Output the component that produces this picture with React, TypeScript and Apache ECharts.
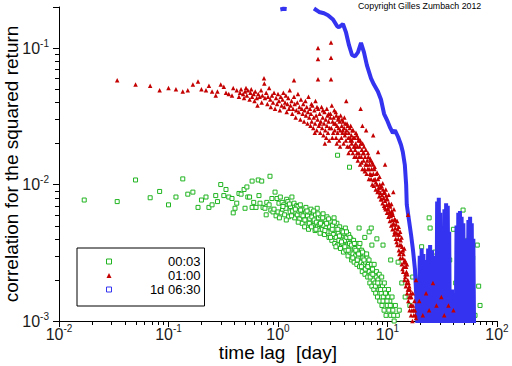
import { useEffect, useRef } from 'react';
import * as echarts from 'echarts';

const seriesNames = ['00:03', '01:00', '1d 06:30'];
const seriesColors = ['#20b420', '#c40000', '#3434f0'];

const X_MIN = 0.01;
const X_MAX = 100;
const Y_MIN = 0.001;
const Y_MAX = 0.2;

const xMinorTicks = [
  0.02, 0.03, 0.04, 0.05, 0.06, 0.07, 0.08, 0.09,
  0.2, 0.3, 0.4, 0.5, 0.6, 0.7, 0.8, 0.9,
  2, 3, 4, 5, 6, 7, 8, 9,
  20, 30, 40, 50, 60, 70, 80, 90,
];
const yMinorTicks = [
  0.002, 0.003, 0.004, 0.005, 0.006, 0.007, 0.008, 0.009,
  0.02, 0.03, 0.04, 0.05, 0.06, 0.07, 0.08, 0.09,
];

// 00:03 series (green hollow squares)
const minutePoints: number[][] = [
  [0.017, 0.0077], [0.034, 0.0075], [0.05, 0.0108], [0.068, 0.008], [0.083, 0.0089], [0.1, 0.0071],
  [0.117, 0.0081], [0.135, 0.011], [0.15, 0.0085], [0.167, 0.0088], [0.186, 0.0068], [0.2, 0.0077],
  [0.22, 0.0081], [0.234, 0.0068], [0.25, 0.0071], [0.27, 0.0083], [0.28, 0.0075], [0.3, 0.01],
  [0.32, 0.0083], [0.335, 0.0092], [0.355, 0.0081], [0.38, 0.0079], [0.39, 0.0062], [0.405, 0.0067],
  [0.42, 0.0073], [0.44, 0.0086], [0.46, 0.0085], [0.49, 0.0092], [0.5, 0.0067], [0.52, 0.0096],
  [0.53, 0.0081], [0.55, 0.0081], [0.58, 0.0068], [0.58, 0.0106], [0.6, 0.0074], [0.63, 0.0068],
  [0.66, 0.0108], [0.67, 0.0083], [0.685, 0.0073], [0.71, 0.0106], [0.73, 0.0068], [0.76, 0.0067],
  [0.78, 0.006], [0.79, 0.0074], [0.83, 0.0071], [0.845, 0.0115], [0.86, 0.0065], [0.88, 0.0079],
  [0.9, 0.0063], [0.92, 0.0066], [0.94, 0.0088], [0.96, 0.0059], [0.98, 0.0079], [1.0, 0.0063],
  [1.02, 0.0073], [1.05, 0.0081], [1.07, 0.0062], [1.09, 0.0074], [1.1, 0.0066], [1.13, 0.0071],
  [1.15, 0.006], [1.18, 0.0067], [1.2, 0.0078], [1.23, 0.0075], [1.25, 0.0058], [1.29, 0.0063],
  [1.3, 0.0069], [1.34, 0.0081], [1.36, 0.0064], [1.4, 0.0073], [1.42, 0.0057], [1.46, 0.0062],
  [1.48, 0.007], [1.5, 0.006], [1.52, 0.0069], [1.55, 0.0064], [1.58, 0.0056], [1.6, 0.0071],
  [1.63, 0.006], [1.66, 0.0052], [1.7, 0.0066], [1.72, 0.0058], [1.75, 0.0049], [1.78, 0.0062],
  [1.8, 0.0068], [1.83, 0.0054], [1.86, 0.0059], [1.9, 0.0047], [1.92, 0.0063], [1.95, 0.0056],
  [1.98, 0.0051], [2.0, 0.0066], [2.04, 0.0058], [2.08, 0.005], [2.1, 0.0062], [2.14, 0.0055],
  [2.18, 0.0046], [2.2, 0.006], [2.24, 0.0053], [2.28, 0.0067], [2.3, 0.0049], [2.34, 0.0057],
  [2.38, 0.0051], [2.42, 0.0044], [2.45, 0.0059], [2.5, 0.0053], [2.54, 0.0047], [2.58, 0.0061],
  [2.62, 0.005], [2.66, 0.0043], [2.7, 0.0055], [2.75, 0.0048], [2.8, 0.0058], [2.84, 0.0045],
  [2.88, 0.0052], [2.92, 0.0041], [2.96, 0.0049], [3.0, 0.0054], [3.05, 0.0045], [3.1, 0.0039],
  [3.15, 0.005], [3.2, 0.0043], [3.25, 0.0057], [3.3, 0.0037], [3.35, 0.0047], [3.4, 0.0041],
  [3.45, 0.0052], [3.5, 0.0036], [3.5, 0.0164], [3.55, 0.0044], [3.6, 0.0039], [3.66, 0.0049],
  [3.72, 0.0034], [3.78, 0.0042], [3.84, 0.0046], [3.9, 0.0037], [3.96, 0.0032], [4.0, 0.0044],
  [4.06, 0.0039], [4.12, 0.0048], [4.18, 0.0033], [4.24, 0.0041], [4.3, 0.0036], [4.36, 0.003],
  [4.42, 0.0043], [4.5, 0.0037], [4.5, 0.0134], [4.56, 0.0032], [4.62, 0.004], [4.7, 0.0028],
  [4.76, 0.0035], [4.84, 0.0031], [4.9, 0.0039], [4.96, 0.0027], [5.02, 0.0034], [5.1, 0.003],
  [5.18, 0.0037], [5.25, 0.0026], [5.32, 0.0032], [5.4, 0.0029], [5.48, 0.0035], [5.5, 0.0048],
  [5.56, 0.0025], [5.64, 0.0031], [5.72, 0.0027], [5.8, 0.0033], [5.88, 0.0023], [5.96, 0.0029],
  [6.05, 0.0026], [6.14, 0.0031], [6.2, 0.0041], [6.22, 0.0022], [6.3, 0.0027], [6.4, 0.0024],
  [6.5, 0.0029], [6.6, 0.0021], [6.7, 0.0026], [6.8, 0.0023], [6.8, 0.0045], [6.9, 0.0019],
  [7.0, 0.0025], [7.1, 0.0022], [7.1, 0.0048], [7.2, 0.0018], [7.2, 0.0036], [7.3, 0.0024],
  [7.4, 0.002], [7.5, 0.0017], [7.6, 0.0022], [7.7, 0.0019], [7.8, 0.0016], [7.9, 0.0021],
  [8.0, 0.0018], [8.0, 0.004], [8.1, 0.0015], [8.2, 0.002], [8.35, 0.0017], [8.5, 0.0014],
  [8.6, 0.0019], [8.75, 0.0016], [8.9, 0.0013], [9.0, 0.0018], [9.1, 0.0036], [9.15, 0.0015],
  [9.3, 0.0012], [9.4, 0.0017], [9.55, 0.0014], [9.7, 0.0011], [9.8, 0.0016], [9.95, 0.0013],
  [10.1, 0.0015], [10.3, 0.0012], [10.5, 0.0014], [10.7, 0.0011], [10.7, 0.0028], [10.9, 0.0013],
  [11.2, 0.0012], [11.5, 0.001], [11.8, 0.0013], [12.3, 0.0011], [12.5, 0.0027], [12.8, 0.0012],
  [13.5, 0.0019], [14.5, 0.0015], [16, 0.0013], [17, 0.0021], [19, 0.0017], [20.5, 0.0035],
  [21.5, 0.0013], [23, 0.0026], [24, 0.0057], [24.5, 0.0048], [26, 0.002], [27, 0.0032],
  [29, 0.0016], [31, 0.0024], [32, 0.0041], [34, 0.0014], [37, 0.0028], [40, 0.0047],
  [42, 0.0019], [44, 0.0033], [46, 0.0012], [49, 0.0065], [51, 0.0022], [54, 0.0039],
  [57, 0.0015], [60, 0.0029], [63, 0.0011], [66, 0.0036], [68, 0.0018], [70, 0.0013],
  [1.03, 0.0057], [1.11, 0.0069], [1.19, 0.0055], [1.27, 0.0072], [1.33, 0.0059], [1.44, 0.0066],
  [1.53, 0.0053], [1.61, 0.0065], [1.69, 0.0059], [1.76, 0.0055], [1.84, 0.0064], [1.93, 0.0052],
  [2.02, 0.0049], [2.12, 0.0064], [2.22, 0.0047], [2.32, 0.0061], [2.44, 0.0052], [2.56, 0.0057],
  [2.68, 0.0046], [2.78, 0.0052], [2.9, 0.0056], [3.02, 0.0041], [3.13, 0.0047], [3.27, 0.0053],
  [3.38, 0.0035], [3.52, 0.0047], [3.64, 0.0042], [3.8, 0.0038], [3.93, 0.0045], [4.08, 0.0035],
  [4.22, 0.0045], [4.38, 0.0033], [4.53, 0.0041], [4.68, 0.0036], [4.82, 0.0029], [4.98, 0.0037],
  [5.14, 0.0033], [5.3, 0.0028], [5.45, 0.0031], [5.6, 0.0037], [5.78, 0.0025], [5.92, 0.0032],
  [6.1, 0.0028], [6.27, 0.0024], [6.45, 0.0031], [6.62, 0.0025], [6.78, 0.0028], [6.95, 0.0021],
  [7.15, 0.0026], [7.35, 0.0022], [7.55, 0.0026], [7.75, 0.0018], [7.95, 0.0023], [8.15, 0.0019],
  [8.4, 0.0022], [8.65, 0.0017], [8.85, 0.0021], [9.1, 0.0014], [9.35, 0.0019], [9.6, 0.0016],
  [9.9, 0.0014], [10.2, 0.0017], [10.6, 0.0013], [11.0, 0.0015], [11.4, 0.0011],
];

// 01:00 series (red triangles)
const hourPoints: number[][] = [
  [0.034, 0.058], [0.05, 0.054], [0.068, 0.053], [0.083, 0.049], [0.1, 0.051], [0.117, 0.05],
  [0.135, 0.048], [0.15, 0.049], [0.167, 0.054], [0.186, 0.057], [0.2, 0.05], [0.22, 0.049],
  [0.234, 0.053], [0.25, 0.048], [0.27, 0.045], [0.28, 0.048], [0.3, 0.054], [0.32, 0.052],
  [0.335, 0.047], [0.355, 0.046], [0.38, 0.045], [0.39, 0.051], [0.42, 0.049], [0.44, 0.044],
  [0.45, 0.047], [0.46, 0.05], [0.48, 0.046], [0.49, 0.043], [0.5, 0.048], [0.51, 0.051],
  [0.52, 0.045], [0.53, 0.049], [0.55, 0.042], [0.56, 0.047], [0.57, 0.05], [0.58, 0.044],
  [0.6, 0.046], [0.61, 0.041], [0.62, 0.048], [0.64, 0.043], [0.65, 0.038], [0.66, 0.046],
  [0.68, 0.044], [0.7, 0.049], [0.71, 0.04], [0.72, 0.045], [0.745, 0.06], [0.75, 0.055],
  [0.76, 0.043], [0.78, 0.047], [0.8, 0.039], [0.81, 0.044], [0.83, 0.051], [0.85, 0.042],
  [0.86, 0.037], [0.88, 0.045], [0.9, 0.04], [0.92, 0.047], [0.94, 0.036], [0.96, 0.043],
  [0.98, 0.039], [1.0, 0.046], [1.02, 0.041], [1.04, 0.035], [1.06, 0.044], [1.08, 0.038],
  [1.1, 0.042], [1.12, 0.047], [1.14, 0.037], [1.16, 0.04], [1.18, 0.045], [1.2, 0.034],
  [1.22, 0.039], [1.24, 0.043], [1.26, 0.036], [1.28, 0.049], [1.3, 0.038], [1.33, 0.041],
  [1.35, 0.033], [1.37, 0.036], [1.4, 0.044], [1.4, 0.058], [1.42, 0.039], [1.45, 0.031],
  [1.47, 0.035], [1.5, 0.04], [1.52, 0.046], [1.55, 0.034], [1.57, 0.037], [1.6, 0.03],
  [1.62, 0.042], [1.65, 0.036], [1.68, 0.033], [1.7, 0.039], [1.73, 0.029], [1.75, 0.035],
  [1.78, 0.041], [1.8, 0.032], [1.83, 0.037], [1.86, 0.028], [1.88, 0.034], [1.9, 0.044],
  [1.93, 0.031], [1.96, 0.036], [1.98, 0.027], [2.0, 0.033], [2.03, 0.029], [2.06, 0.038],
  [2.1, 0.026], [2.12, 0.031], [2.15, 0.035], [2.18, 0.028], [2.2, 0.041], [2.23, 0.032],
  [2.26, 0.025], [2.3, 0.03], [2.32, 0.1], [2.32, 0.083], [2.32, 0.059], [2.33, 0.036],
  [2.36, 0.027], [2.4, 0.033], [2.43, 0.024], [2.46, 0.029], [2.5, 0.037], [2.53, 0.026],
  [2.56, 0.031], [2.6, 0.023], [2.63, 0.028], [2.66, 0.034], [2.7, 0.025], [2.73, 0.03],
  [2.76, 0.022], [2.8, 0.027], [2.83, 0.032], [2.86, 0.024], [2.9, 0.029], [2.93, 0.021],
  [2.96, 0.026], [3.0, 0.031], [3.05, 0.11], [3.05, 0.085], [3.05, 0.059],
  [3.02, 0.033], [3.07, 0.026], [3.1, 0.038], [3.15, 0.029], [3.19, 0.024], [3.22, 0.031],
  [3.27, 0.035], [3.3, 0.025], [3.34, 0.028], [3.39, 0.022], [3.41, 0.032], [3.46, 0.027],
  [3.5, 0.024], [3.53, 0.03], [3.58, 0.026], [3.61, 0.021], [3.66, 0.029], [3.7, 0.025],
  [3.73, 0.032], [3.79, 0.022], [3.82, 0.027], [3.87, 0.024], [3.93, 0.029], [3.97, 0.02],
  [4.02, 0.026], [4.08, 0.023], [4.11, 0.028], [4.17, 0.021], [4.2, 0.041], [4.23, 0.025],
  [4.29, 0.019], [4.33, 0.027], [4.38, 0.022], [4.43, 0.024], [4.48, 0.019], [4.52, 0.026],
  [4.58, 0.021], [4.63, 0.018], [4.68, 0.023], [4.71, 0.02], [4.77, 0.025], [4.82, 0.017],
  [4.88, 0.022], [4.93, 0.019], [4.98, 0.016], [5.0, 0.022],
  [5.06, 0.018], [5.12, 0.02], [5.18, 0.016], [5.24, 0.023], [5.3, 0.019], [5.36, 0.015],
  [5.42, 0.021], [5.48, 0.017], [5.55, 0.019], [5.62, 0.014], [5.68, 0.036], [5.7, 0.02],
  [5.76, 0.016], [5.83, 0.018], [5.9, 0.013], [5.9, 0.027], [5.97, 0.017], [6.04, 0.015],
  [6.1, 0.019], [6.17, 0.013], [6.24, 0.016], [6.3, 0.014], [6.38, 0.025], [6.45, 0.012],
  [6.52, 0.015], [6.6, 0.013], [6.68, 0.016], [6.76, 0.011], [6.84, 0.014], [6.92, 0.012],
  [7.0, 0.015], [7.08, 0.011], [7.16, 0.013], [7.25, 0.01], [7.34, 0.014], [7.4, 0.023],
  [7.42, 0.012], [7.5, 0.0098], [7.6, 0.013], [7.7, 0.011], [7.8, 0.0092], [7.9, 0.012],
  [8.0, 0.01], [8.1, 0.0088], [8.2, 0.011], [8.2, 0.0173], [8.3, 0.0095], [8.4, 0.0082],
  [8.5, 0.01], [8.6, 0.0087], [8.7, 0.0078], [8.8, 0.0098], [8.9, 0.0084], [9.0, 0.0073],
  [9.1, 0.0092], [9.2, 0.008], [9.3, 0.007], [9.4, 0.0088], [9.5, 0.0076], [9.5, 0.014],
  [9.6, 0.0066], [9.7, 0.0083], [9.8, 0.0071], [9.9, 0.0062], [10.0, 0.0078], [10.1, 0.0067],
  [10.2, 0.0058], [10.3, 0.0073], [10.4, 0.0063], [10.5, 0.0054], [10.6, 0.0069], [10.7, 0.0059],
  [10.8, 0.005], [10.9, 0.0064], [11.0, 0.0055], [11.1, 0.0047], [11.2, 0.006], [11.3, 0.0088],
  [11.35, 0.0052], [11.5, 0.0043], [11.6, 0.0056], [11.75, 0.0048], [11.9, 0.004], [12.0, 0.0051],
  [12.15, 0.0044], [12.3, 0.0036], [12.4, 0.0047], [12.55, 0.004], [12.7, 0.0033], [12.8, 0.0043],
  [12.95, 0.0036], [13.1, 0.0029], [13.2, 0.0039], [13.35, 0.0032], [13.5, 0.0026], [13.6, 0.0035],
  [13.75, 0.0029], [13.9, 0.0023], [14.0, 0.0031], [14.15, 0.0025], [14.3, 0.002], [14.4, 0.0028],
  [14.55, 0.0022], [14.7, 0.0018], [14.8, 0.0025], [14.95, 0.0019], [15.1, 0.0016], [15.2, 0.0022],
  [15.35, 0.0017], [15.4, 0.006], [15.5, 0.0014], [15.6, 0.0019], [15.75, 0.0015], [15.9, 0.0012],
  [16.0, 0.0017], [16.2, 0.0013], [16.4, 0.0011], [16.5, 0.0015], [16.7, 0.0012], [16.9, 0.001],
  [17.1, 0.0013], [17.4, 0.0011], [17.8, 0.0012], [18.2, 0.002], [18.2, 0.00105], [19.5, 0.0014],
  [21, 0.0011], [22.5, 0.0016], [24, 0.0012], [26, 0.0019], [28, 0.0013], [31, 0.0015],
  [33, 0.0011], [36, 0.0013], [40, 0.0012],
  [2.02, 0.039], [2.17, 0.024], [2.27, 0.037], [2.41, 0.028], [2.57, 0.035], [2.68, 0.02],
  [2.79, 0.036], [2.91, 0.033], [3.13, 0.022], [3.25, 0.028], [3.37, 0.034], [3.44, 0.02],
  [3.57, 0.031], [3.69, 0.019], [3.84, 0.03], [3.91, 0.025], [4.04, 0.031], [4.14, 0.024],
  [4.27, 0.028], [4.41, 0.017], [4.55, 0.022], [4.61, 0.027], [4.74, 0.021], [4.86, 0.025],
  [5.03, 0.019], [5.15, 0.024], [5.27, 0.017], [5.39, 0.022], [5.51, 0.016], [5.64, 0.021],
  [5.79, 0.0145], [5.93, 0.02], [6.07, 0.017], [6.21, 0.0125], [6.34, 0.018], [6.48, 0.014],
  [6.63, 0.017], [6.79, 0.013], [6.95, 0.0155], [7.1, 0.0118], [7.28, 0.0145], [7.45, 0.0108],
  [7.63, 0.0135], [7.83, 0.0104], [8.05, 0.0122], [8.25, 0.0091], [8.45, 0.0114], [8.65, 0.0095],
  [8.85, 0.0078], [9.05, 0.0102], [9.25, 0.0087], [9.45, 0.0068], [9.65, 0.0092], [9.85, 0.0079],
  [10.05, 0.0066], [10.25, 0.0084], [10.45, 0.0071], [10.65, 0.0061], [10.85, 0.0072], [11.05, 0.0062],
  [11.25, 0.0051], [11.45, 0.0066], [11.65, 0.0045], [11.85, 0.0055], [12.1, 0.0038], [12.25, 0.0054],
  [12.45, 0.0043], [12.65, 0.0049], [12.85, 0.0031], [13.05, 0.0045], [13.3, 0.0036], [13.45, 0.0041],
  [13.7, 0.0024], [13.85, 0.0033], [14.1, 0.0027], [14.25, 0.0034], [14.5, 0.0021], [14.65, 0.0027],
  [14.9, 0.0023], [15.05, 0.0026], [15.3, 0.002], [15.55, 0.0017], [15.8, 0.0018], [16.1, 0.0015],
  [16.3, 0.0016], [16.6, 0.0013], [17.0, 0.0016], [17.3, 0.0012], [17.6, 0.0014], [18.0, 0.0011],
];

// 1d 06:30 series (blue, very dense: drawn as a thick trace)
const dailyPoints: (number | string)[][] = [
  [1.05, 0.192], [1.12, 0.194], [1.2, 0.193], [1.6, '-'],
  [2.13, 0.195], [2.37, 0.184], [2.63, 0.18], [2.86, 0.174], [3.18, 0.162], [3.46, 0.145],
  [3.6, 0.142], [3.92, 0.15], [4.17, 0.131], [4.45, 0.105], [4.74, 0.089], [5.05, 0.087],
  [5.37, 0.093], [5.73, 0.109], [6.1, 0.093], [6.48, 0.075], [7.07, 0.06], [7.52, 0.054],
  [8.17, 0.048], [8.72, 0.042], [9.3, 0.033], [9.9, 0.0297], [10.6, 0.026], [11.2, 0.0238],
  [11.7, 0.025], [12.5, 0.0223], [13.3, 0.0195], [13.8, 0.0173], [14.4, 0.0139], [14.8, 0.01],
  [15.0, 0.0071], [15.7, 0.0055], [16.4, 0.0043], [17.1, 0.0033], [17.8, 0.0024], [18.2, 0.0017],
  [18.6, 0.0011], [18.9, 0.0008],
  [19.3, 0.0008], [19.7, 0.003], [20.1, 0.0008], [20.5, 0.0034], [20.9, 0.0008], [21.3, 0.0031],
  [21.7, 0.0008], [22.1, 0.0028], [22.5, 0.0008], [23.1, 0.0008],
  [23.5, 0.0034], [24.0, 0.0008], [24.5, 0.0036], [25.0, 0.0008], [25.5, 0.0033], [26.0, 0.0008],
  [26.5, 0.003], [27.0, 0.0008],
  [28.0, 0.0008], [28.4, 0.0075], [28.9, 0.0008], [29.4, 0.008], [29.9, 0.0008], [30.3, 0.0062],
  [30.8, 0.0008],
  [32.6, 0.0008], [33.1, 0.0066], [33.7, 0.0008], [34.3, 0.0073], [34.9, 0.0008], [35.5, 0.007],
  [36.1, 0.0008], [36.6, 0.0045], [37.1, 0.0008], [38.5, 0.0008], [38.8, 0.0017], [39.2, 0.0008],
  [42.0, 0.0008], [42.7, 0.005], [43.5, 0.0008], [44.3, 0.0062], [45.1, 0.0008], [45.9, 0.0064],
  [46.7, 0.0008], [47.5, 0.0058], [48.4, 0.0008], [49.3, 0.0052], [50.2, 0.0008], [51.2, 0.004],
  [52.2, 0.0008],
  [53.8, 0.0008], [54.8, 0.0055], [55.8, 0.0008], [56.8, 0.0058], [57.8, 0.0008], [58.8, 0.0052],
  [59.8, 0.0008], [60.8, 0.004], [61.8, 0.0008],
];

const FONT = 'Liberation Sans, Arial, Helvetica, sans-serif';

const powerLabel = (v: number) => {
  const e = Math.log10(v);
  const r = Math.round(e);
  if (Math.abs(e - r) > 1e-6) return '';
  return `{b|10}{e|${r}}`;
};

const tickRich = (lh: number) => ({
  b: { fontSize: 16, lineHeight: lh, color: '#1a1a1a', fontFamily: FONT },
  e: { fontSize: 10, lineHeight: 10, verticalAlign: 'top', color: '#1a1a1a', fontFamily: FONT },
});

export default function App() {
  const ref = useRef<HTMLDivElement>(null);
  useEffect(() => {
    const chart = echarts.init(ref.current!, null, { renderer: 'svg' });
    const option: any = {
      animation: false,
      backgroundColor: '#fff',
      grid: { left: 59, right: 15, top: 7, bottom: 45, containLabel: false, outerBoundsMode: 'none' },
      graphic: [
        {
          type: 'text',
          left: 358,
          top: 1,
          style: { text: 'Copyright Gilles Zumbach 2012', fontSize: 8.8, fontFamily: FONT, fill: '#000' },
        },
      ],
      legend: {
        left: 77,
        top: 248,
        orient: 'vertical',
        backgroundColor: '#fff',
        borderColor: '#000',
        borderWidth: 1,
        borderRadius: 0,
        padding: [7, 4, 10, 29],
        itemGap: 1,
        itemWidth: 5,
        itemHeight: 5,
        itemTextGap: 5,
        selectedMode: false,
        formatter: (name: string) => `{t|${name}}`,
        textStyle: {
          rich: { t: { width: 84, align: 'right', fontSize: 13, lineHeight: 15, fontFamily: FONT, color: '#000' } },
        },
        data: [
          { name: seriesNames[0], icon: 'rect', itemStyle: { color: '#fff', borderColor: seriesColors[0], borderWidth: 1 } },
          { name: seriesNames[1], icon: 'triangle', itemStyle: { color: seriesColors[1], borderWidth: 0 } },
          { name: seriesNames[2], icon: 'rect', itemStyle: { color: '#fff', borderColor: seriesColors[2], borderWidth: 1 } },
        ],
      },
      xAxis: {
        type: 'log',
        logBase: 10,
        min: X_MIN,
        max: X_MAX,
        name: 'time lag  [day]',
        nameLocation: 'middle',
        nameGap: 22,
        nameMoveOverlap: false,
        nameTextStyle: { fontSize: 19, fontFamily: FONT, color: '#000' },
        axisLine: { show: true, lineStyle: { color: '#000', width: 1 } },
        axisTick: { show: true, inside: false, length: 6, lineStyle: { color: '#000' } },
        splitLine: { show: false },
        axisLabel: { margin: 2, formatter: powerLabel, rich: tickRich(22) },
      },
      yAxis: {
        type: 'log',
        logBase: 10,
        min: Y_MIN,
        max: Y_MAX,
        name: 'correlation for the squared return',
        nameLocation: 'middle',
        nameGap: 38,
        nameMoveOverlap: false,
        nameTextStyle: { fontSize: 19, fontFamily: FONT, color: '#000' },
        axisLine: { show: true, lineStyle: { color: '#000', width: 1 } },
        axisTick: { show: true, inside: false, length: 6, lineStyle: { color: '#000' } },
        splitLine: { show: false },
        axisLabel: { margin: 10, formatter: powerLabel, rich: tickRich(20) },
      },
      series: [
        {
          type: 'custom',
          silent: true,
          clip: false,
          data: xMinorTicks.map((v) => [v, Y_MIN]),
          renderItem: (_p: any, api: any) => {
            const pt = api.coord([api.value(0), api.value(1)]);
            const x = Math.round(pt[0]) + 0.5;
            return { type: 'line', shape: { x1: x, y1: pt[1], x2: x, y2: pt[1] + 4 }, style: { stroke: '#000', lineWidth: 1 } };
          },
        },
        {
          type: 'custom',
          silent: true,
          clip: false,
          data: yMinorTicks.map((v) => [X_MIN, v]),
          renderItem: (_p: any, api: any) => {
            const pt = api.coord([api.value(0), api.value(1)]);
            const y = Math.round(pt[1]) + 0.5;
            return { type: 'line', shape: { x1: pt[0] - 4, y1: y, x2: pt[0], y2: y }, style: { stroke: '#000', lineWidth: 1 } };
          },
        },
        {
          name: seriesNames[2],
          type: 'line',
          data: dailyPoints,
          showSymbol: false,
          symbol: 'none',
          connectNulls: false,
          clip: true,
          lineStyle: { color: seriesColors[2], width: 4, join: 'bevel' },
          itemStyle: { color: seriesColors[2] },
          z: 2,
        },
        {
          name: seriesNames[1],
          type: 'scatter',
          data: hourPoints,
          symbol: 'triangle',
          symbolSize: 4.5,
          itemStyle: { color: seriesColors[1], opacity: 1 },
          z: 3,
        },
        {
          name: seriesNames[0],
          type: 'scatter',
          data: minutePoints,
          symbol: 'rect',
          symbolSize: 4,
          itemStyle: { color: '#fff', borderColor: seriesColors[0], borderWidth: 1, opacity: 1 },
          z: 1,
        },
      ],
    };
    chart.setOption(option);
    return () => chart.dispose();
  }, []);
  return (
    <div
      ref={ref}
      style={{ position: 'fixed', left: 0, top: 0, width: 512, height: 366, background: '#fff' }}
    />
  );
}
